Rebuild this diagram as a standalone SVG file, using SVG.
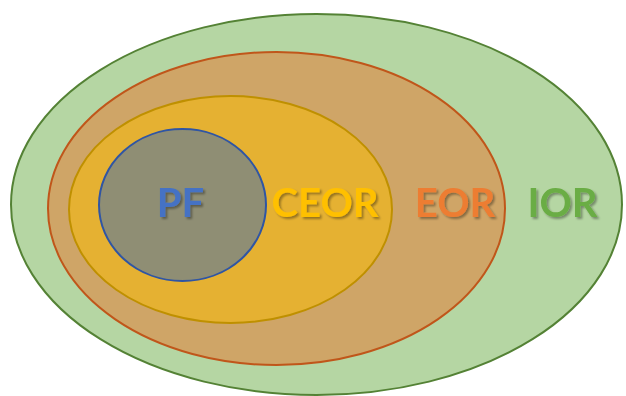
<svg xmlns="http://www.w3.org/2000/svg" width="626" height="396" viewBox="0 0 626 396">
<defs>
<style>
.lbl{font-family:Lato,"Open Sans","Liberation Sans",sans-serif;font-weight:bold;font-size:40px;text-anchor:middle;filter:url(#sh)}
</style>
<filter id="sh" x="-20%" y="-20%" width="140%" height="150%">
<feDropShadow dx="2" dy="2" stdDeviation="1.3" flood-color="#000" flood-opacity="0.35"/>
</filter>
</defs>
<rect width="626" height="396" fill="#fff"/>
<g id="IOR">
<ellipse cx="316.5" cy="204.5" rx="305.5" ry="190.5" fill="#B5D6A3" stroke="#548235" stroke-width="2"/>
<text class="lbl" x="562.5" y="216.5" fill="#6AAD44">IOR</text>
</g>
<g id="EOR">
<ellipse cx="276.5" cy="208.5" rx="228.5" ry="156.5" fill="#CFA567" stroke="#C0561A" stroke-width="2"/>
<text class="lbl" x="455" y="216.5" fill="#ED7D31">EOR</text>
</g>
<g id="CEOR">
<ellipse cx="230.5" cy="209.5" rx="161.5" ry="113.5" fill="#E5B132" stroke="#BF9000" stroke-width="2"/>
<text class="lbl" x="325" y="216.5" fill="#FFC000">CEOR</text>
</g>
<g id="PF">
<ellipse cx="182.5" cy="205" rx="83.5" ry="76" fill="#8F8E74" stroke="#2F55A4" stroke-width="2"/>
<text class="lbl" x="180.5" y="216.5" fill="#4472C4">PF</text>
</g>
<g id="connectors"/>
</svg>
